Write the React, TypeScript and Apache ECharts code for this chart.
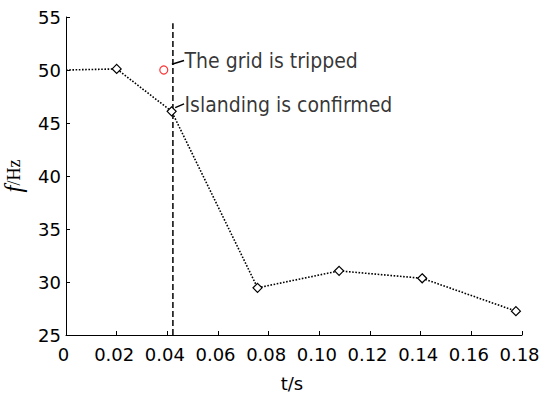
import React, { useEffect, useRef } from "react";
import * as echarts from "echarts";

const time = [0, 0.02, 0.0417, 0.0756, 0.1078, 0.1406, 0.1776];
const freq = [50.0, 50.1, 46.1, 29.45, 31.05, 30.35, 27.25];
const tripPoint = [0.0386, 50.0];
const islandingTime = 0.0422;
const xTicks = [0, 0.02, 0.04, 0.06, 0.08, 0.1, 0.12, 0.14, 0.16, 0.18];
const yTicks = [25, 30, 35, 40, 45, 50, 55];
const annotations = [
  { text: "The grid is tripped", from: [0.0418, 50.55], to: [0.0466, 50.9] },
  { text: "Islanding is confirmed", from: [0.0431, 46.45], to: [0.0466, 46.8] },
];

export default function App() {
  const ref = useRef<HTMLDivElement>(null);
  useEffect(() => {
    if (!ref.current) return;
    const chart = echarts.init(ref.current, null, { renderer: "svg" });
    const tickFont = { fontFamily: "DejaVu Sans", fontSize: 18, color: "#000" };
    const series: any[] = [
      {
        type: "line",
        data: time.map((t, i) => ({
          value: [t, freq[i]],
          symbol: i === 0 ? "none" : "diamond",
        })),
        symbol: "diamond",
        symbolSize: 9,
        showAllSymbol: true,
        itemStyle: { color: "#fff", borderColor: "#000", borderWidth: 1.2 },
        lineStyle: { color: "#000", width: 1.6, type: [1.6, 1.6] },
        z: 3,
      },
      {
        type: "line",
        data: [
          [islandingTime, yTicks[0]],
          [islandingTime, 54.4],
        ],
        symbol: "none",
        lineStyle: { color: "#000", width: 1.5, type: [6, 3] },
        z: 2,
      },
      {
        type: "scatter",
        data: [tripPoint],
        symbol: "circle",
        symbolSize: 8,
        itemStyle: { color: "#fff", borderColor: "#ff0000", borderWidth: 1.2 },
        z: 4,
      },
    ];
    annotations.forEach((a) => {
      series.push({
        type: "line",
        data: [a.from, a.to],
        symbol: "none",
        lineStyle: { color: "#000", width: 1.5 },
        z: 4,
      });
      series.push({
        type: "scatter",
        data: [{ value: a.to, name: a.text }],
        symbolSize: 1,
        itemStyle: { color: "transparent" },
        label: {
          show: true,
          position: "right",
          distance: 0,
          formatter: (p: any) => p.name,
          fontFamily: "'DejaVu Sans Condensed', 'Liberation Sans', sans-serif",
          fontSize: 21,
          color: "#000",
          offset: [0, 1],
        },
        z: 5,
      });
    });
    chart.setOption({
      animation: false,
      backgroundColor: "#fff",
      grid: { left: 66, right: 18, top: 17, bottom: 59, containLabel: false, outerBoundsMode: "none" },
      xAxis: {
        type: "value",
        min: xTicks[0],
        max: xTicks[xTicks.length - 1],
        interval: 0.02,
        name: "t/s",
        nameLocation: "middle",
        nameGap: 39,
        nameTextStyle: { fontFamily: "DejaVu Sans", fontSize: 18, color: "#000", padding: [0, 4, 0, 0] },
        axisLine: { lineStyle: { color: "#000", width: 1 } },
        axisTick: { inside: true, length: 4, lineStyle: { color: "#000" } },
        axisLabel: {
          ...tickFont,
          margin: 10,
          padding: [0, 5, 0, 0],
          formatter: (v: number) => (v === 0 ? "0" : v.toFixed(2)),
        },
        splitLine: { show: false },
      },
      yAxis: {
        type: "value",
        min: yTicks[0],
        max: yTicks[yTicks.length - 1],
        interval: 5,
        name: "{i|f}/Hz",
        nameLocation: "middle",
        nameGap: 40,
        nameTextStyle: {
          fontFamily: "Liberation Serif",
          fontSize: 18,
          color: "#000",
          rich: {
            i: { fontFamily: "Liberation Serif", fontStyle: "italic", fontSize: 25, color: "#000" },
          },
        },
        axisLine: { show: true, lineStyle: { color: "#000", width: 1 } },
        axisTick: { show: true, inside: true, length: 4, lineStyle: { color: "#000" } },
        axisLabel: { ...tickFont, margin: 5 },
        splitLine: { show: false },
      },
      series,
    });
    return () => chart.dispose();
  }, []);
  return <div ref={ref} style={{ width: 540, height: 394, position: "absolute", left: 0, top: 0 }} />;
}
